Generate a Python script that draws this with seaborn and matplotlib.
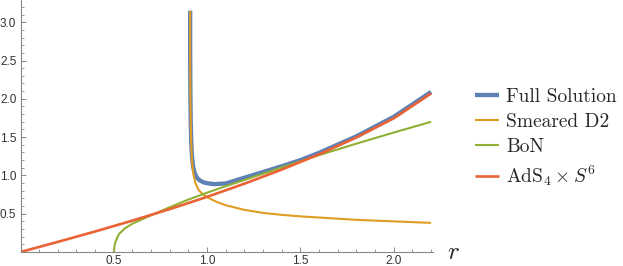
import matplotlib
matplotlib.use('Agg')
import matplotlib.pyplot as plt
import matplotlib.ticker as mticker
import pandas as pd
import seaborn as sns

# values
full_r = [0.909, 0.909, 0.910, 0.912, 0.915, 0.919, 0.925, 0.933, 0.945, 0.960, 0.980, 1.00,
          1.04, 1.10, 1.20, 1.30, 1.40, 1.50, 1.60, 1.80, 2.00, 2.20]
full_y = [3.15, 2.60, 2.10, 1.70, 1.42, 1.24, 1.11, 1.03, 0.97, 0.935, 0.910, 0.898, 0.886,
          0.895, 0.970, 1.045, 1.120, 1.200, 1.295, 1.510, 1.765, 2.090]

d2_r = [0.909, 0.909, 0.910, 0.912, 0.915, 0.919, 0.926, 0.937, 0.954, 0.975, 1.00, 1.05,
        1.10, 1.20, 1.30, 1.40, 1.50, 1.60, 1.80, 2.00, 2.20]
d2_y = [3.15, 2.60, 2.10, 1.70, 1.40, 1.18, 1.02, 0.90, 0.81, 0.76, 0.715, 0.655, 0.61,
        0.55, 0.51, 0.485, 0.465, 0.45, 0.42, 0.40, 0.38]

bon_r = [0.50, 0.505, 0.51, 0.52, 0.53, 0.56, 0.60, 0.70, 0.80, 0.90, 1.00, 1.10, 1.20,
         1.40, 1.60, 1.80, 2.00, 2.20]
bon_y = [0.0, 0.10, 0.14, 0.20, 0.24, 0.31, 0.37, 0.48, 0.585, 0.685, 0.775, 0.86, 0.94,
         1.105, 1.265, 1.415, 1.56, 1.70]

ads_r = [0.0, 0.2, 0.4, 0.6, 0.8, 1.0, 1.2, 1.4, 1.6, 1.8, 2.0, 2.2]
ads_y = [0.0, 0.132, 0.268, 0.41, 0.56, 0.72, 0.892, 1.076, 1.276, 1.496, 1.746, 2.07]

labels = ['Full Solution', 'Smeared D2', 'BoN', r'AdS$_4\times S^6$']
colors = ['#5E81B5', '#E19C24', '#8FB032', '#EB6235']
widths = [3.1, 1.5, 1.5, 1.9]

sns.set_style('ticks')
plt.rcParams['mathtext.fontset'] = 'cm'

fig = plt.figure(figsize=(6.23, 2.66), dpi=100)
ax = fig.add_axes([20.5 / 623, 14 / 266, (433 - 20.5) / 623, 252 / 266])

series = [(full_r, full_y), (d2_r, d2_y), (bon_r, bon_y), (ads_r, ads_y)]
for (rr, yy), lab, c, w in zip(series, labels, colors, widths):
    d = pd.DataFrame({'r': rr, 'y': yy})
    sns.lineplot(data=d, x='r', y='y', sort=False, estimator=None, color=c,
                 linewidth=w, label=lab, ax=ax, solid_capstyle='butt')

ax.set_xlim(0, 2.21)
ax.set_ylim(0, 3.29)
ax.set_xlabel('')
ax.set_ylabel('')

for s in ['top', 'right']:
    ax.spines[s].set_visible(False)
for s in ['left', 'bottom']:
    ax.spines[s].set_color('#888888')
    ax.spines[s].set_linewidth(0.8)

ax.xaxis.set_major_locator(mticker.FixedLocator([0.5, 1.0, 1.5, 2.0]))
ax.xaxis.set_minor_locator(mticker.MultipleLocator(0.1))
ax.yaxis.set_major_locator(mticker.FixedLocator([0.5, 1.0, 1.5, 2.0, 2.5, 3.0]))
ax.yaxis.set_minor_locator(mticker.MultipleLocator(0.1))
ax.xaxis.set_major_formatter(mticker.FormatStrFormatter('%.1f'))
ax.yaxis.set_major_formatter(mticker.FormatStrFormatter('%.1f'))
ax.tick_params(which='major', direction='in', length=3.8, width=0.7, color='#888888',
               labelsize=8.5, labelcolor='#333333')
ax.tick_params(which='minor', direction='in', length=2.2, width=0.6, color='#888888')
ax.tick_params(axis='x', pad=2.5)
ax.tick_params(axis='y', pad=3)
for t in ax.get_xticklabels() + ax.get_yticklabels():
    t.set_family('Liberation Sans')

ax.text(1.05, 0.0, '$r$', transform=ax.transAxes, fontsize=18, ha='center', va='center')

leg = ax.legend(loc='center left', bbox_to_anchor=(475 / 623, 1 - 138 / 266),
                bbox_transform=fig.transFigure, frameon=False, borderpad=0,
                borderaxespad=0, handlelength=1.25, handletextpad=0.35,
                labelspacing=0.36, prop={'family': 'cmr10', 'size': 14})

fig.savefig('out.png', dpi=100)
